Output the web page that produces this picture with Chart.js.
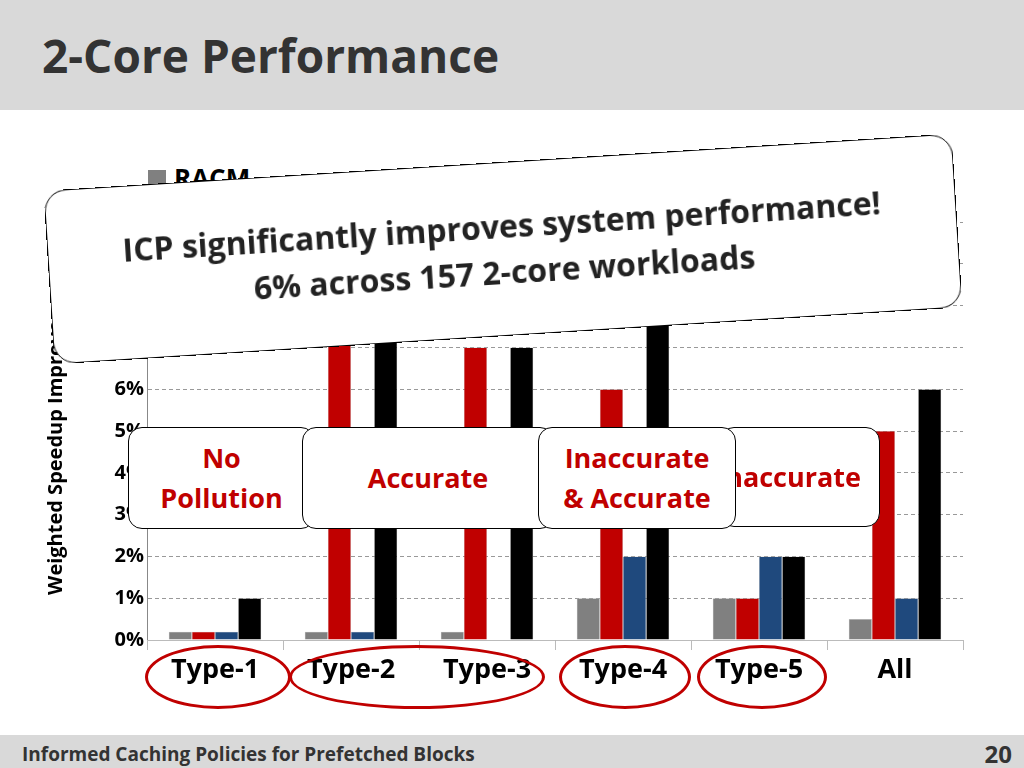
<!DOCTYPE html>
<html><head><meta charset="utf-8">
<script src="https://cdn.jsdelivr.net/npm/chart.js"></script>
<style>
body{margin:0;width:1024px;height:768px;position:relative;overflow:hidden;background:#fff;font-family:"Open Sans",Calibri,sans-serif;}
#head{position:absolute;left:0;top:0;width:1024px;height:110px;background:#d9d9d9;}
#head h1{margin:0;position:absolute;left:42px;top:24px;font-size:46px;font-weight:bold;color:#333;}
#foot{position:absolute;left:0;top:735px;width:1024px;height:33px;background:#d9d9d9;font-weight:bold;color:#333;}
#wrap{position:absolute;left:40px;top:200px;width:940px;height:510px;}
.box{position:absolute;background:#fff;border:1.5px solid #000;border-radius:14px;font-weight:bold;text-align:center;display:flex;align-items:center;justify-content:center;}
.small{top:427px;height:100px;font-size:27px;color:#c00000;line-height:1.5;}
.ell{position:absolute;border:3px solid #c00000;border-radius:50%;}
</style></head><body>
<div id="head"><h1>2-Core Performance</h1></div>
<div style="position:absolute;left:148px;top:160px;font-weight:bold;font-size:26px;color:#000"><span style="display:inline-block;width:18px;height:18px;background:#808080;margin-right:8px"></span>RACM</div>
<div id="wrap"><canvas id="c" width="940" height="510"></canvas></div>
<div class="ell" style="left:145px;top:645px;width:140px;height:58px"></div>
<div class="ell" style="left:289px;top:645px;width:250px;height:58px"></div>
<div class="ell" style="left:559px;top:645px;width:126px;height:58px"></div>
<div class="ell" style="left:697px;top:645px;width:124px;height:58px"></div>
<div class="box small" style="left:720px;width:160px;justify-content:flex-end;padding-right:18px;box-sizing:border-box">Inaccurate</div>
<div class="box small" style="left:128px;width:185px">No<br>Pollution</div>
<div class="box small" style="left:302px;width:250px">Accurate</div>
<div class="box small" style="left:538px;width:196px">Inaccurate<br>&amp; Accurate</div>
<div class="box" style="left:48px;top:162px;width:908px;height:172px;transform:rotate(-3.6deg);border-radius:22px;font-size:32px;color:#222;line-height:1.45;flex-direction:column;">
<div>ICP significantly improves system performance!</div><div>6% across 157 2-core workloads</div></div>
<div id="foot"><span style="position:absolute;left:22px;top:6px;font-size:19px">Informed Caching Policies for Prefetched Blocks</span><span style="position:absolute;right:12px;top:2px;font-size:24px">20</span></div>
<script>
const categories = ['Type-1', 'Type-2', 'Type-3', 'Type-4', 'Type-5', 'All'];
const seriesNames = ['RACM', 'ICP-D', 'ICP-AP', 'ICP'];
const racm = [0.2, 0.2, 0.2, 1, 1, 0.5];
const icpD = [0.2, 8, 7, 6, 1, 5];
const icpAP = [0.2, 0.2, 0, 2, 2, 1];
const icp = [1, 8, 7, 9, 2, 6];
const colors = ['#808080', '#c00000', '#1f497d', '#000000'];
const values = [racm, icpD, icpAP, icp];

new Chart(document.getElementById('c'), {
  type: 'bar',
  data: {
    labels: categories,
    datasets: seriesNames.map((n, i) => ({
      label: n, data: values[i], backgroundColor: colors[i],
      borderColor: '#bbbbbb', borderWidth: 0.5,
      categoryPercentage: 0.68, barPercentage: 1
    }))
  },
  options: {
    responsive: false, animation: false,
    layout: { padding: { top: 22, right: 17, left: 0, bottom: 0 } },
    plugins: { legend: { display: false }, tooltip: { enabled: false } },
    scales: {
      y: {
        min: 0, max: 10,
        ticks: { stepSize: 1, color: '#000', font: { size: 20, weight: 'bold', family: 'Open Sans' }, callback: v => v + '%' },
        grid: { color: '#999', tickLength: 0 },
        border: { color: '#888', dash: [4, 3] },
        title: { display: true, text: 'Weighted Speedup Improvement', color: '#000', font: { size: 20, weight: 'bold', family: 'Open Sans' } },
        afterFit: s => { s.width = 107; }
      },
      x: {
        ticks: { color: '#000', font: { size: 27, weight: 'bold', family: 'Open Sans' }, padding: 4 },
        grid: { offset: true, drawOnChartArea: false, color: '#bbb', tickLength: 10 },
        border: { color: '#bbb' },
        afterFit: s => { s.height = 70; }
      }
    }
  }
});
</script>
</body></html>
